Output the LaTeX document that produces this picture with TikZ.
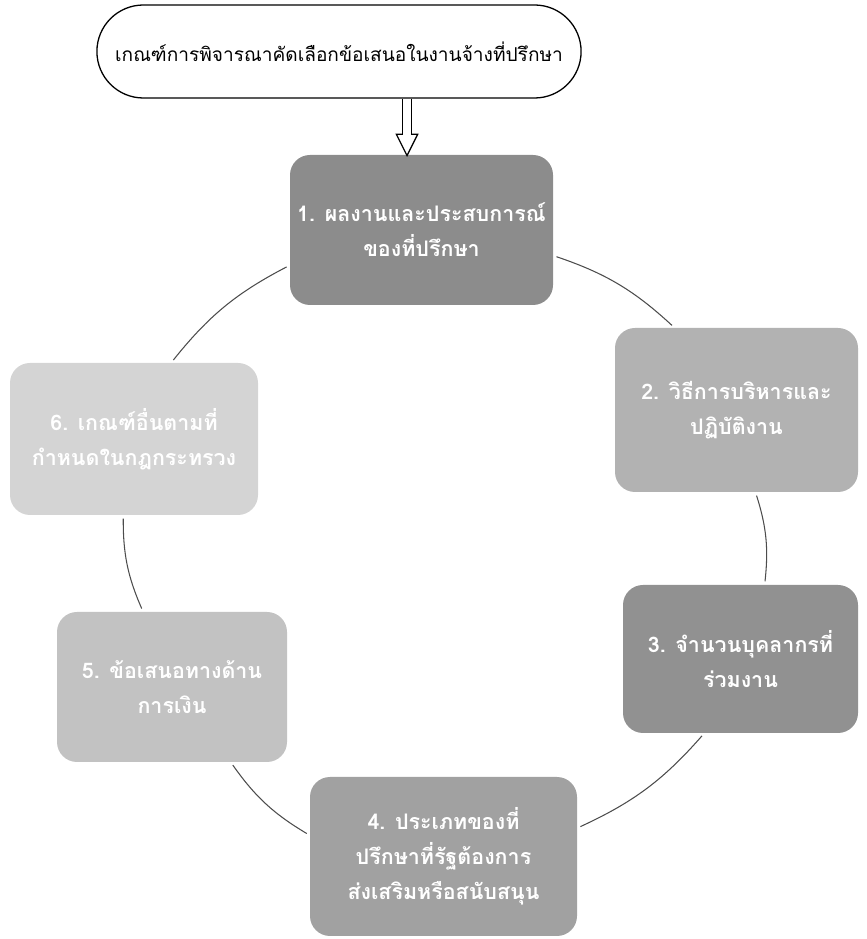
\documentclass[tikz,border=0pt]{standalone}
\usepackage{fontspec}
\newfontfamily\thaifont[Script=Thai]{Loma}
\usetikzlibrary{shapes.misc,arrows.meta}
\newdimen\pxu
\pxu=0.03cm

\begin{document}
\begin{tikzpicture}[x=0.03cm, y=0.03cm,
	head/.style={rounded rectangle, draw, line width=1.1pt, minimum width=492\pxu, minimum height=93\pxu, font=\thaifont\fontsize{16.3}{22}\selectfont},
	box/.style={rectangle, rounded corners=20\pxu, text=white, align=center, font=\thaifont\fontsize{18.3}{30}\selectfont\bfseries},
	link/.style={draw=black!70, line width=0.9pt, bend left=12, shorten <=3pt, shorten >=3pt}]
		\useasboundingbox (0,0) rectangle (867,939);
		% judul di atas
		\node[head] (crit) at (339,887.5) {เกณฑ์การพิจารณาคัดเลือกข้อเสนอในงานจ้างที่ปรึกษา};
		
		% enam kriteria
		\node[box, fill=black!45, minimum width=263\pxu, minimum height=150\pxu] (k1) at (421.5,709) {1. ผลงานและประสบการณ์\\ของที่ปรึกษา};
		\node[box, fill=black!30, minimum width=243\pxu, minimum height=164\pxu] (k2) at (736.5,529) {2. วิธีการบริหารและ\\ปฏิบัติงาน};
		\node[box, fill=black!43, minimum width=235\pxu, minimum height=148\pxu] (k3) at (740.5,280) {3. จำนวนบุคลากรที่\\ร่วมงาน};
		\node[box, fill=black!37, minimum width=267\pxu, minimum height=159\pxu] (k4) at (443.5,82.5) {4. ประเภทของที่\\ปรึกษาที่รัฐต้องการ\\ส่งเสริมหรือสนับสนุน};
		\node[box, fill=black!24, minimum width=230\pxu, minimum height=150\pxu] (k5) at (172,252) {5. ข้อเสนอทางด้าน\\การเงิน};
		\node[box, fill=black!17, minimum width=248\pxu, minimum height=152\pxu] (k6) at (134,500) {6. เกณฑ์อื่นตามที่\\กำหนดในกฎกระทรวง};
		
		% lingkaran penghubung
		\draw[link] (k1.-11) to (k2.127);
		\draw[link] (k2.-77) to (k3.72);
		\draw[link] (k3.-116) to (k4.12);
		\draw[link] (k4.171) to (k5.-52);
		\draw[link] (k5.111) to (k6.-98);
		\draw[link] (k6.64) to (k1.195);
		
		% panah berongga
		\coordinate (tip) at (407,782);
		\draw[line width=9pt, -{Triangle[length=20pt,width=20pt,line width=0pt]}] (crit.south -| tip) -- (tip);
		\draw[white, line width=6.6pt, shorten <=0.6pt, shorten >=2.7pt, -{Triangle[length=16pt,width=16pt,line width=0pt]}] (crit.south -| tip) -- (tip);
		
	\end{tikzpicture}
\end{document}
